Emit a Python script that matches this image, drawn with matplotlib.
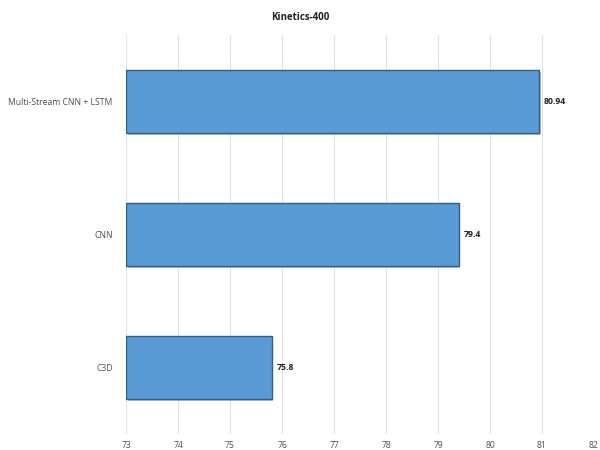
import numpy as np
import matplotlib.pyplot as plt
import matplotlib.patheffects as pe

plt.rcParams['font.family'] = ['Open Sans', 'DejaVu Sans']

models = ["Multi-Stream CNN + LSTM", "CNN", "C3D"]
accuracy = [80.94, 79.4, 75.8]
xticks = [73, 74, 75, 76, 77, 78, 79, 80, 81, 82]

fig = plt.figure(figsize=(6, 4.5), dpi=100)
ax = fig.add_axes([0.21, 0.036, 0.78, 0.886])

y = np.arange(len(models))
left = xticks[0]
widths = [a - left for a in accuracy]
bars = ax.barh(y, widths, left=left, height=0.474, color="#5B9BD5",
               edgecolor="#2F5F8A", linewidth=1.0, zorder=3)
for b in bars:
    b.set_path_effects([pe.SimplePatchShadow(offset=(1.2, -1.2), shadow_rgbFace="#9a9a9a", alpha=0.6),
                        pe.Normal()])

for yi, a in zip(y, accuracy):
    ax.annotate(f"{a:g}", (a, yi), xytext=(3.6, 0), textcoords="offset points",
                va="center", ha="left", fontsize=6.3, fontweight="bold", color="#222222")

ax.set_xlim(xticks[0], xticks[-1])
ax.set_ylim(len(models) - 0.5, -0.5)
ax.set_xticks(xticks)
ax.set_yticks(y)
ax.set_yticklabels(models)
ax.tick_params(axis="both", length=0, labelsize=6.2, colors="#505050")
ax.tick_params(axis="x", pad=5)
ax.tick_params(axis="y", pad=9.5)
ax.grid(axis="x", color="#E2E2E2", linewidth=0.8, zorder=0)
for s in ax.spines.values():
    s.set_visible(False)

fig.text(0.5, 0.96, "Kinetics-400", ha="center", va="center",
         fontsize=7, fontweight="bold", color="#222222")

fig.savefig("out.png", dpi=100)
